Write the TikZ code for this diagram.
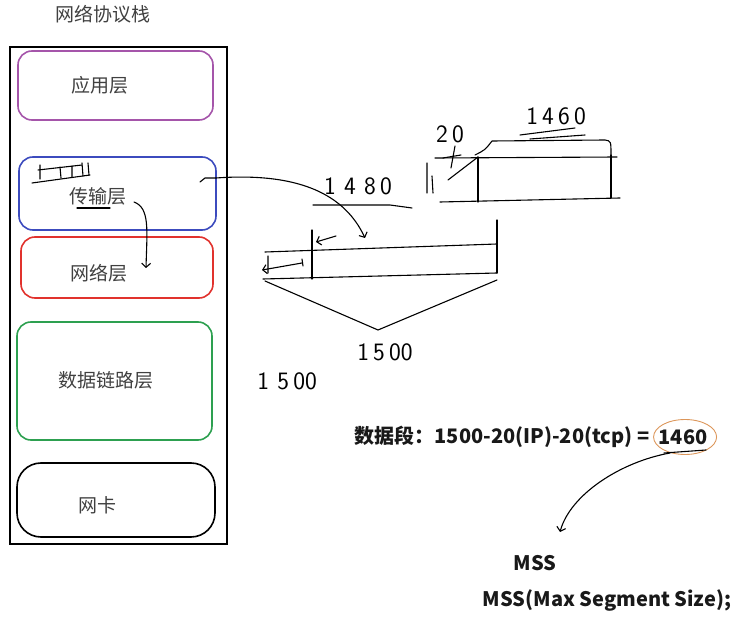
\documentclass[tikz,border=0pt]{standalone}
\usepackage{fontspec}
\usetikzlibrary{positioning,arrows.meta}
\newfontfamily\cjk{Noto Sans CJK SC}
\definecolor{appc}{RGB}{165,85,170}
\definecolor{tcpc}{RGB}{60,75,190}
\definecolor{ipc}{RGB}{225,50,45}
\definecolor{linkc}{RGB}{45,160,80}
\definecolor{ringc}{RGB}{220,150,90}
\begin{document}
\begin{tikzpicture}[x=1pt,y=-1pt,>={Straight Barb[length=4pt,width=9pt]},
  layer/.style={draw,line width=1.6pt,rounded corners=14pt,inner sep=0pt},
  lbl/.style={text=black!75,font=\cjk\fontsize{19}{22}\selectfont},
  bold/.style={text=black!90,font=\cjk\bfseries\fontsize{20}{24}\selectfont,inner sep=1pt},
  hand/.style={font=\sffamily\fontsize{25}{27}\selectfont,inner sep=0pt},
  pen/.style={line width=1.1pt,line cap=round,line join=round}]
\useasboundingbox (0,0) rectangle (742,620);

\node[draw,line width=2pt,minimum width=217pt,minimum height=496pt,inner sep=0pt] (stack) at (118,295.5) {};
\node[lbl] (title) at (103,14) {网络协议栈};

\node[layer,draw=appc,minimum width=195pt,minimum height=69pt] (app) at (115.5,85.5) {};
\node[layer,draw=tcpc,minimum width=197pt,minimum height=73pt] (tcp) at (117.5,193.5) {};
\node[layer,draw=ipc,minimum width=192pt,minimum height=61pt] (ip) at (117,267.5) {};
\node[layer,draw=linkc,minimum width=195pt,minimum height=118pt] (link) at (114.5,381) {};
\node[layer,draw=black,rounded corners=24pt,minimum width=198pt,minimum height=74pt] (nic) at (116,500) {};

\node[lbl] (appt) at (100,85) {应用层};
\node[lbl] (tcpt) at (98,196) {传输层};
\node[lbl] (ipt) at (99,273) {网络层};
\node[lbl] (linkt) at (106,380) {数据链路层};
\node[lbl] (nict) at (97,505) {网卡};

\draw[pen] (32,183) -- (90,175);
\draw[pen] (40,165) -- (40,179) (38,170) -- (82,165) (60,167) -- (61,178) (72,166) -- (72,177) (82,163) -- (83,176) (88,163) -- (89,175);
\draw[pen] (77,208) -- (110,208);

\coordinate (tcpin) at (200,182);
\coordinate (down) at (146,268);
\coordinate (seg) at (365,238);
\draw[pen,->] ([shift={(4,6)}]tcpt.east) .. controls (150,208) and (147,230) .. (down);
\draw[pen] (tcpin) -- (205,178) -- (216,178);
\draw[pen,->] (216,178) .. controls (300,172) and (345,195) .. (seg);

\draw[pen] (265,252) -- (497,244);
\draw[pen] (263,279) -- (497,273);
\draw[pen] (312,230) -- (312,279);
\draw[pen] (497,220) -- (497,273);
\draw[pen] (265,281) -- (378,330) -- (497,280);
\draw[pen,->] (336,236) -- (316,242);
\draw[pen,->] (302,263) -- (262,270);
\draw[pen] (268,256) -- (268,273) (302,259) -- (303,266);
\node[hand] (sum) at (385,352) {1\,5\,00};
\node[hand] (mtu) at (287,381) {1\,\,5\,00};

\node[hand] (ipload) at (358,186) {1\,\,4\,\,8\,0};
\draw[pen] (313,205) -- (390,205) -- (412,208);

\draw[pen] (435,158) -- (617,157);
\draw[pen] (440,202) -- (620,198);
\draw[pen] (478,157) -- (478,202);
\draw[pen] (611,155) -- (611,198);
\draw[pen] (475,155) .. controls (485,150) .. (492,141) -- (605,140) .. controls (611,141) .. (611,155);
\draw[pen] (427,163) -- (427,193) (432,176) -- (433,193);
\draw[pen] (455,146) -- (451,168) (443,158) -- (461,155) (448,180) -- (478,157);
\node[hand] (iphead) at (450,134) {2\,0};
\node[hand] (tcpload) at (556,116) {1\,4\,6\,0};
\draw[pen] (520,135) -- (575,128) (530,139) -- (585,135);

\node[bold] (calc) at (502,437) {数据段：1500-20(IP)-20(tcp) =};
\node[bold,right=7pt of calc] (res) {1460};
\draw[ringc,line width=0.9pt] ([xshift=2pt]res.center) ellipse (31.5 and 17.5);
\draw[pen] (664,453) -- (706,450);
\node[bold] (mss) at (535,563) {MSS};
\node[bold] (full) at (607,600) {MSS(Max Segment Size);};
\coordinate (tip) at (560,532);
\draw[pen,->] (670,453) .. controls (620,462) and (570,495) .. (tip);
\end{tikzpicture}
\end{document}
